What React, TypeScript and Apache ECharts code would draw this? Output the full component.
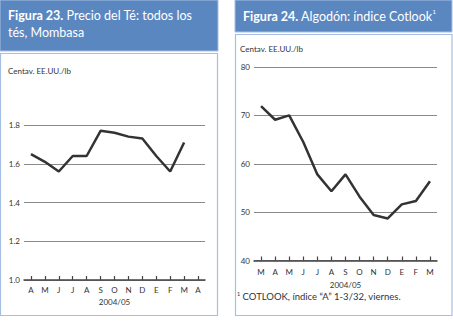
import React, { useEffect, useRef } from "react";
import * as echarts from "echarts";

const teaMonths = ["A", "M", "J", "J", "A", "S", "O", "N", "D", "E", "F", "M", "A"];
const teaValues = [1.65, 1.61, 1.56, 1.64, 1.64, 1.77, 1.76, 1.74, 1.73, 1.64, 1.56, 1.71, null];
const teaTicks = { min: 1.0, max: 1.8, interval: 0.2 };

const cottonMonths = ["M", "A", "M", "J", "J", "A", "S", "O", "N", "D", "E", "F", "M"];
const cottonValues = [71.9, 69.1, 70, 64.5, 57.8, 54.3, 57.8, 53.2, 49.4, 48.7, 51.6, 52.3, 56.4];
const cottonTicks = { min: 40, max: 80, interval: 10 };

const FONT = "Lato, 'Open Sans', sans-serif";
const BLUE = "#5b87c1";
const BORDER = "#a6bfe2";
const DARK = "#333333";

export default function App() {
  const ref = useRef<HTMLDivElement>(null);
  useEffect(() => {
    if (!ref.current) return;
    const chart = echarts.init(ref.current, null, { renderer: "svg" });
    const xAxisCommon = {
      type: "category" as const,
      boundaryGap: true,
      axisLine: { show: true, lineStyle: { color: "#444", width: 1.5 } },
      axisTick: { show: true, inside: true, alignWithLabel: true, length: 4, lineStyle: { color: "#444", width: 1.2 } },
      axisLabel: { color: DARK, fontSize: 8, fontFamily: FONT, interval: 0, margin: 6 },
      splitLine: { show: false },
      nameLocation: "middle" as const,
      nameTextStyle: { color: DARK, fontSize: 8, fontFamily: FONT },
    };
    const yAxisCommon = {
      type: "value" as const,
      axisLine: { show: false },
      axisTick: { show: false },
      splitLine: { show: true, lineStyle: { color: "#8a8a8a", width: 1 } },
    };
    chart.setOption({
      animation: false,
      backgroundColor: "#ffffff",
      grid: [
        { left: 24, top: 125, width: 181, height: 155 },
        { left: 254, top: 67, width: 183, height: 193.5 },
      ],
      xAxis: [
        { ...xAxisCommon, gridIndex: 0, data: teaMonths, name: "2004/05", nameGap: 18 },
        { ...xAxisCommon, gridIndex: 1, data: cottonMonths, name: "2004/05", nameGap: 20, axisLabel: { ...xAxisCommon.axisLabel, margin: 7 } },
      ],
      yAxis: [
        {
          ...yAxisCommon,
          gridIndex: 0,
          min: teaTicks.min,
          max: teaTicks.max,
          interval: teaTicks.interval,
          axisLabel: { color: DARK, fontSize: 8, fontFamily: FONT, margin: 4, formatter: (v: number) => v.toFixed(1) },
        },
        {
          ...yAxisCommon,
          gridIndex: 1,
          min: cottonTicks.min,
          max: cottonTicks.max,
          interval: cottonTicks.interval,
          axisLabel: { color: DARK, fontSize: 8, fontFamily: FONT, margin: 4 },
        },
      ],
      series: [
        {
          type: "line",
          xAxisIndex: 0,
          yAxisIndex: 0,
          data: teaValues,
          showSymbol: false,
          symbol: "none",
          lineStyle: { color: DARK, width: 2.5 },
        },
        {
          type: "line",
          xAxisIndex: 1,
          yAxisIndex: 1,
          data: cottonValues,
          showSymbol: false,
          symbol: "none",
          lineStyle: { color: DARK, width: 2.5 },
        },
      ],
      graphic: [
        { type: "rect", z: -10, shape: { x: 0, y: 0, width: 218, height: 51 }, style: { fill: BLUE, stroke: BORDER, lineWidth: 1 } },
        { type: "rect", z: -10, shape: { x: 0.5, y: 53.5, width: 217, height: 262 }, style: { fill: "#fff", stroke: BORDER, lineWidth: 1.2 } },
        { type: "rect", z: -10, shape: { x: 235, y: 0, width: 217, height: 32 }, style: { fill: BLUE, stroke: BORDER, lineWidth: 1 } },
        { type: "rect", z: -10, shape: { x: 235.5, y: 34.5, width: 216.5, height: 281 }, style: { fill: "#fff", stroke: BORDER, lineWidth: 1.2 } },
        {
          type: "text",
          x: 8,
          y: 7,
          style: {
            text: "{b|Figura 23.} Precio del Té: todos los\ntés, Mombasa",
            fill: "#fff",
            fontFamily: FONT,
            fontSize: 12.5,
            lineHeight: 17,
            rich: { b: { fontWeight: "bold", fill: "#fff", fontFamily: FONT, fontSize: 12.5, lineHeight: 17 } },
          },
        },
        {
          type: "text",
          x: 243,
          y: 8,
          style: {
            text: "{b|Figura 24.} Algodón: índice Cotlook{s|1}",
            fill: "#fff",
            fontFamily: FONT,
            fontSize: 12.5,
            lineHeight: 17,
            rich: {
              b: { fontWeight: "bold", fill: "#fff", fontFamily: FONT, fontSize: 12.5, lineHeight: 17 },
              s: { fill: "#fff", fontFamily: FONT, fontSize: 6, verticalAlign: "top", lineHeight: 12 },
            },
          },
        },
        { type: "text", x: 8, y: 67, style: { text: "Centav. EE.UU./lb", fill: DARK, fontFamily: FONT, fontSize: 8 } },
        { type: "text", x: 240, y: 45, style: { text: "Centav. EE.UU./lb", fill: DARK, fontFamily: FONT, fontSize: 8 } },
        {
          type: "text",
          x: 237,
          y: 291,
          style: {
            text: "{s|1} COTLOOK, índice \u201cA\u201d 1-3/32, viernes.",
            fill: DARK,
            fontFamily: FONT,
            fontSize: 9.5,
            rich: { s: { fill: DARK, fontFamily: FONT, fontSize: 5.5, verticalAlign: "top" } },
          },
        },
      ],
    });
    return () => chart.dispose();
  }, []);
  return (
    <div style={{ position: "absolute", left: 0, top: 0, width: 453, height: 322, background: "#fff" }}>
      <div ref={ref} style={{ width: 453, height: 322 }} />
    </div>
  );
}
